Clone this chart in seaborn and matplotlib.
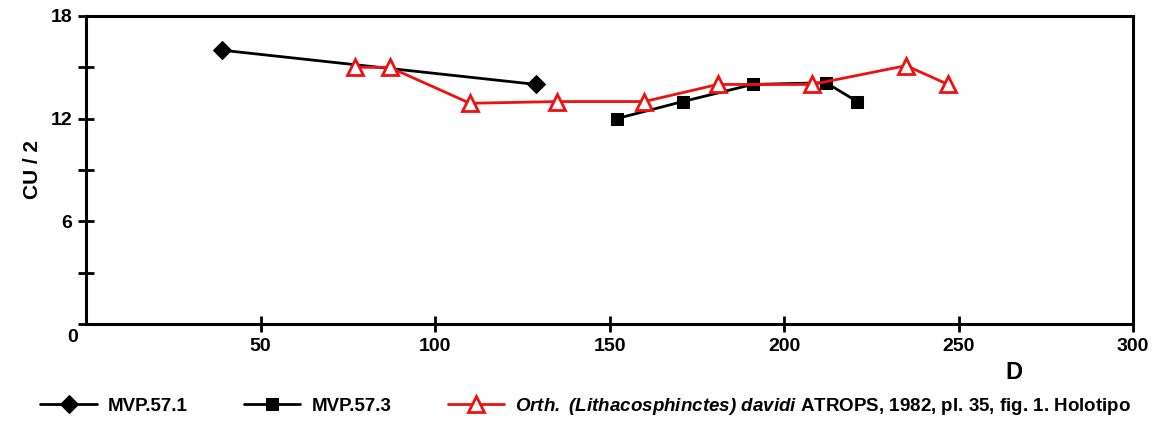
import matplotlib
matplotlib.use("Agg")
import matplotlib.pyplot as plt
import seaborn as sns
import pandas as pd

sns.set_theme(style="white")
plt.rcParams['font.family'] = ['Liberation Sans', 'DejaVu Sans']
plt.rcParams['mathtext.fontset'] = 'custom'
plt.rcParams['mathtext.it'] = 'Liberation Sans:italic:bold'
plt.rcParams['mathtext.rm'] = 'Liberation Sans:italic:bold'
for k in ['text.color', 'axes.labelcolor', 'xtick.color', 'ytick.color']:
    plt.rcParams[k] = 'black'

# data
mvp571_d = [39, 129]
mvp571_cu = [16, 14]
mvp573_d = [152, 171, 191, 212, 221]
mvp573_cu = [12, 13, 14, 14.1, 13]
davidi_d = [77, 87, 110, 135, 160, 181, 208, 235, 247]
davidi_cu = [15, 15, 12.9, 13, 13, 14, 14, 15.1, 14]

labels = ["MVP.57.1", "MVP.57.3",
          r"$\mathrm{Orth.\ (Lithacosphinctes)\ davidi}$ ATROPS, 1982, pl. 35, fig. 1. Holotipo"]

fig = plt.figure(figsize=(11.53, 4.21), dpi=100)
ax = fig.add_axes([0.0746, 0.2304, 0.9081, 0.7316])

df1 = pd.DataFrame({"D": mvp571_d, "CU": mvp571_cu})
df2 = pd.DataFrame({"D": mvp573_d, "CU": mvp573_cu})
df3 = pd.DataFrame({"D": davidi_d, "CU": davidi_cu})

sns.lineplot(data=df1, x="D", y="CU", ax=ax, color="black", lw=2, sort=False,
             marker="D", markersize=9, markeredgecolor="black", markerfacecolor="black",
             label=labels[0])
sns.lineplot(data=df2, x="D", y="CU", ax=ax, color="black", lw=2, sort=False,
             marker="s", markersize=8, markeredgecolor="black", markerfacecolor="black",
             label=labels[1])
sns.lineplot(data=df3, x="D", y="CU", ax=ax, color="#ee1111", lw=2, sort=False,
             marker="^", markersize=12, markeredgecolor="#ee1111", markerfacecolor="white",
             markeredgewidth=2, label=labels[2])

ax.set_xlim(0, 300)
ax.set_ylim(0, 18)
ax.set_xticks([50, 100, 150, 200, 250, 300])
ax.set_yticks([0, 3, 6, 9, 12, 15, 18])
ax.set_yticklabels(["", "", "6", "", "12", "", "18"])
ax.tick_params(axis="both", which="major", bottom=True, left=True, direction="inout",
               length=12, width=2, color="black", labelcolor="black",
               labelsize=14, pad=4)
for lab in ax.get_xticklabels() + ax.get_yticklabels():
    lab.set_fontweight("bold")
ax.text(-0.008, -0.015, "0", transform=ax.transAxes, ha="right", va="top",
        fontsize=14, fontweight="bold")
for s in ax.spines.values():
    s.set_linewidth(2.2)
    s.set_color("black")

ax.set_ylabel("CU / 2", fontsize=15, fontweight="bold", labelpad=6)
ax.set_xlabel("D", fontsize=17, fontweight="bold")
ax.xaxis.set_label_coords(266 / 300, -0.12)

ax.get_legend().remove()
h, l = ax.get_legend_handles_labels()
fig.legend(h, l, loc="center", bbox_to_anchor=(0.508, 0.035), ncol=3, frameon=False,
           prop={"weight": "bold", "size": 13.5}, handlelength=3.0,
           columnspacing=3.0, handletextpad=0.6)

fig.savefig("out.png", dpi=100)
